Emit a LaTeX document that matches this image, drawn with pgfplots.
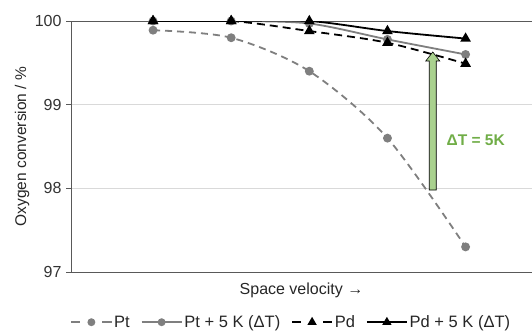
\documentclass[border=0pt]{standalone}
\usepackage{fontspec}
\setmainfont{Liberation Sans}
\usepackage{pgfplots}
\pgfplotsset{compat=1.18}
\usetikzlibrary{calc}
\definecolor{ptgray}{HTML}{7F7F7F}
\definecolor{axgray}{HTML}{595959}
\definecolor{gridgray}{HTML}{D9D9D9}
\definecolor{dtgreen}{HTML}{70AD47}
\definecolor{arrowfill}{HTML}{A9D18E}
\begin{document}
\begin{tikzpicture}
\begin{axis}[
  name=ax,
  at={(0,0)}, anchor=south west,
  scale only axis,
  width=461pt, height=251pt,
  xmin=-0.05, xmax=5.85,
  ymin=97, ymax=100,
  ytick={97,98,99,100},
  xtick=\empty,
  axis x line*=bottom,
  axis y line*=left,
  axis line style={axgray, line width=0.8pt, -},
  ytick style={axgray, line width=0.8pt},
  tick align=outside,
  major tick length=5pt,
  ymajorgrids,
  grid style={gridgray, line width=0.8pt},
  /pgf/number format/assume math mode=true,
  tick label style={font=\fontsize{16}{19}\selectfont, text=black!80},
  yticklabel style={xshift=-1pt},
  ylabel={Oxygen conversion / \%},
  ylabel style={font=\fontsize{15.5}{18}\selectfont, at={(axis description cs:-0.106,0.5)}, anchor=center, text=black!85},
  xlabel={Space velocity →},
  xlabel style={font=\fontsize{16}{19}\selectfont, at={(axis description cs:0.5,0)}, anchor=center, yshift=-18pt, text=black!85},
  legend columns=4,
  legend style={at={(0.478,-0.2)}, anchor=center, draw=none, fill=none,
    font=\fontsize{16.5}{19}\selectfont, text=black!85,
    /tikz/every even column/.append style={column sep=9pt}},
  legend cell align=left,
  legend image code/.code={\draw[mark repeat=2,mark phase=2,#1] plot coordinates {(0cm,0cm) (0.7cm,0cm) (1.4cm,0cm)};},
]
\draw[axgray, line width=0.8pt] (rel axis cs:0,1) -- (rel axis cs:1,1);

\addplot[ptgray, line width=1.8pt, dash pattern=on 7pt off 5pt, smooth, tension=0.5,
  mark=*, mark size=3.5pt, mark options={solid, fill=ptgray, draw=ptgray},
  legend image post style={dash pattern=on 9pt off 22pt on 9pt, mark size=3pt}]
  coordinates {(1,99.89) (2,99.80) (3,99.40) (4,98.60) (5,97.30)};
\addlegendentry{Pt}

\addplot[ptgray, line width=1.8pt, smooth, tension=0.5,
  mark=*, mark size=3.5pt, mark options={solid, fill=ptgray, draw=ptgray},
  legend image post style={mark size=3pt}]
  coordinates {(1,100.0) (2,100.0) (3,99.97) (4,99.78) (5,99.60)};
\addlegendentry{Pt + 5 K (ΔT)}

\addplot[black, line width=1.8pt, dash pattern=on 8pt off 5pt, smooth, tension=0.5,
  mark=triangle*, mark size=4.4pt, mark options={solid, fill=black},
  legend image post style={dash pattern=on 9pt off 22pt on 9pt, mark size=3.6pt}]
  coordinates {(1,100.0) (2,100.0) (3,99.88) (4,99.74) (5,99.49)};
\addlegendentry{Pd}

\addplot[black, line width=1.8pt, smooth, tension=0.5,
  mark=triangle*, mark size=4.4pt, mark options={solid, fill=black},
  legend image post style={mark size=3.6pt}]
  coordinates {(1,100.0) (2,100.0) (3,100.0) (4,99.88) (5,99.79)};
\addlegendentry{Pd + 5 K (ΔT)}

\coordinate (B) at (axis cs:4.58,97.98);
\coordinate (T) at (axis cs:4.58,99.63);
\draw[fill=arrowfill, draw=black, line width=0.6pt]
  ([xshift=-3.5pt]B) -- ([xshift=3.5pt]B) -- ([xshift=3.5pt,yshift=-9pt]T)
  -- ([xshift=7pt,yshift=-9pt]T) -- (T) -- ([xshift=-7pt,yshift=-9pt]T)
  -- ([xshift=-3.5pt,yshift=-9pt]T) -- cycle;
\node[text=dtgreen, font=\fontsize{15.5}{18}\selectfont\bfseries] at (axis cs:5.13,98.57) {ΔT = 5K};
\end{axis}
\pgfresetboundingbox
\path[use as bounding box] ($(ax.south west)+(-71pt,-60pt)$) rectangle ($(ax.north east)+(0pt,21pt)$);
\end{tikzpicture}
\end{document}
